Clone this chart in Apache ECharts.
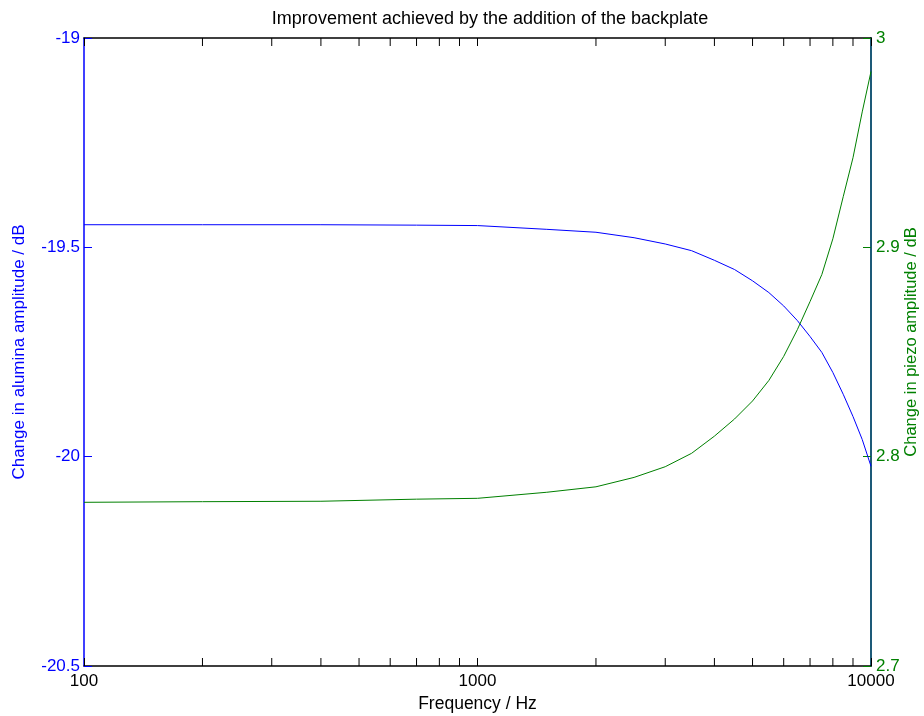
<!DOCTYPE html>
<html>
<head>
<meta charset="utf-8">
<style>
  html, body { margin: 0; padding: 0; background: #ffffff; }
  #chart { width: 924px; height: 716px; }
</style>
<script src="https://cdn.jsdelivr.net/npm/echarts@6/dist/echarts.min.js"></script>
</head>
<body>
<div id="chart"></div>
<script>
// Frequency samples (Hz)
const frequency = [100, 200, 400, 700, 1000, 1500, 2000, 2500, 3000, 3500, 4000, 4500,
                   5000, 5500, 6000, 6500, 7000, 7500, 8000, 8500, 9000, 9500, 10000];

// Change in alumina amplitude (dB), left axis
const aluminaChange = [-19.446, -19.446, -19.446, -19.447, -19.448, -19.457, -19.464, -19.477,
                       -19.492, -19.508, -19.531, -19.553, -19.580, -19.608, -19.640, -19.675,
                       -19.713, -19.751, -19.799, -19.851, -19.904, -19.959, -20.023];

// Change in piezo amplitude (dB), right axis
const piezoChange = [2.7782, 2.7785, 2.7787, 2.7797, 2.7801, 2.7830, 2.7856, 2.7901,
                     2.7952, 2.8016, 2.8098, 2.8180, 2.8266, 2.8364, 2.8479, 2.8607,
                     2.8741, 2.8870, 2.9041, 2.9242, 2.9428, 2.9647, 2.9840];

// Minor decade ticks on the frequency axis
const minorTickFreqs = [200, 300, 400, 500, 600, 700, 800, 900,
                        2000, 3000, 4000, 5000, 6000, 7000, 8000, 9000];

const leftRange = [-20.5, -19];
const rightRange = [2.7, 3];

const FONT = '"Liberation Sans", Arial, Helvetica, sans-serif';
const BLUE = '#0000ff';
const GREEN = '#008000';
const TICK_LEN = 8;

const chart = echarts.init(document.getElementById('chart'), null, { renderer: 'canvas' });

const option = {
  animation: false,
  backgroundColor: '#ffffff',
  title: {
    text: 'Improvement achieved by the addition of the backplate',
    left: 485,
    top: 5,
    textAlign: 'center',
    textStyle: { fontFamily: FONT, fontSize: 18, fontWeight: 'normal', color: '#000000' }
  },
  grid: { left: 84, right: 53, top: 38, bottom: 50, containLabel: false, outerBoundsMode: 'none' },
  xAxis: [
    {
      type: 'log',
      logBase: 10,
      min: 100,
      max: 10000,
      position: 'bottom',
      name: 'Frequency / Hz',
      nameLocation: 'middle',
      nameGap: 29,
      nameMoveOverlap: false,
      nameTextStyle: { fontFamily: FONT, fontSize: 17.5, color: '#000000' },
      axisLine: { show: true, lineStyle: { color: '#000000', width: 1.5 } },
      axisTick: { show: true, inside: true, length: TICK_LEN, lineStyle: { color: '#000000' } },
      axisLabel: {
        show: true, margin: 7, fontFamily: FONT, fontSize: 17, color: '#000000',
        formatter: v => String(Math.round(v))
      },
      splitLine: { show: false },
      minorTick: { show: false },
      minorSplitLine: { show: false }
    },
    {
      type: 'log',
      logBase: 10,
      min: 100,
      max: 10000,
      position: 'top',
      axisLine: { show: true, lineStyle: { color: '#000000', width: 1.5 } },
      axisTick: { show: true, inside: true, length: TICK_LEN, lineStyle: { color: '#000000' } },
      axisLabel: { show: false },
      splitLine: { show: false }
    }
  ],
  yAxis: [
    {
      type: 'value',
      min: leftRange[0],
      max: leftRange[1],
      interval: 0.5,
      position: 'left',
      name: 'Change in alumina amplitude / dB',
      nameLocation: 'middle',
      nameGap: 56,
      nameRotate: 90,
      nameMoveOverlap: false,
      nameTextStyle: { fontFamily: FONT, fontSize: 17, color: BLUE },
      axisLine: { show: true, lineStyle: { color: BLUE, width: 1.5 } },
      axisTick: { show: true, inside: true, length: TICK_LEN, lineStyle: { color: BLUE } },
      axisLabel: { margin: 4, fontFamily: FONT, fontSize: 17, color: BLUE },
      splitLine: { show: false }
    },
    {
      type: 'value',
      min: rightRange[0],
      max: rightRange[1],
      interval: 0.1,
      position: 'right',
      name: 'Change in piezo amplitude / dB',
      nameLocation: 'middle',
      nameGap: 32,
      nameRotate: 90,
      nameMoveOverlap: false,
      nameTextStyle: { fontFamily: FONT, fontSize: 16.5, color: GREEN, padding: [0, 0, 0, 20] },
      axisLine: { show: true, lineStyle: { color: '#1d5a78', width: 2 } },
      axisTick: { show: true, inside: true, length: TICK_LEN, lineStyle: { color: GREEN } },
      axisLabel: { margin: 5, fontFamily: FONT, fontSize: 17, color: GREEN },
      splitLine: { show: false }
    }
  ],
  series: [
    {
      name: 'alumina',
      type: 'line',
      xAxisIndex: 0,
      yAxisIndex: 0,
      data: frequency.map((f, i) => [f, aluminaChange[i]]),
      showSymbol: false,
      symbol: 'none',
      lineStyle: { color: BLUE, width: 1 },
      z: 3
    },
    {
      name: 'piezo',
      type: 'line',
      xAxisIndex: 0,
      yAxisIndex: 1,
      data: frequency.map((f, i) => [f, piezoChange[i]]),
      showSymbol: false,
      symbol: 'none',
      lineStyle: { color: GREEN, width: 1 },
      z: 3
    },
    {
      // minor ticks along the bottom and top frame
      name: 'minorTicks',
      type: 'custom',
      xAxisIndex: 0,
      yAxisIndex: 0,
      silent: true,
      clip: false,
      data: minorTickFreqs.map(f => [f]),
      encode: { x: 0 },
      renderItem: function (params, api) {
        const f = api.value(0);
        const bottom = api.coord([f, leftRange[0]]);
        const top = api.coord([f, leftRange[1]]);
        const style = { stroke: '#000000', lineWidth: 1 };
        return {
          type: 'group',
          children: [
            { type: 'line', shape: { x1: bottom[0], y1: bottom[1], x2: bottom[0], y2: bottom[1] - TICK_LEN }, style: style },
            { type: 'line', shape: { x1: top[0], y1: top[1], x2: top[0], y2: top[1] + TICK_LEN }, style: style }
          ]
        };
      },
      z: 4
    }
  ]
};

chart.setOption(option);
</script>
</body>
</html>
